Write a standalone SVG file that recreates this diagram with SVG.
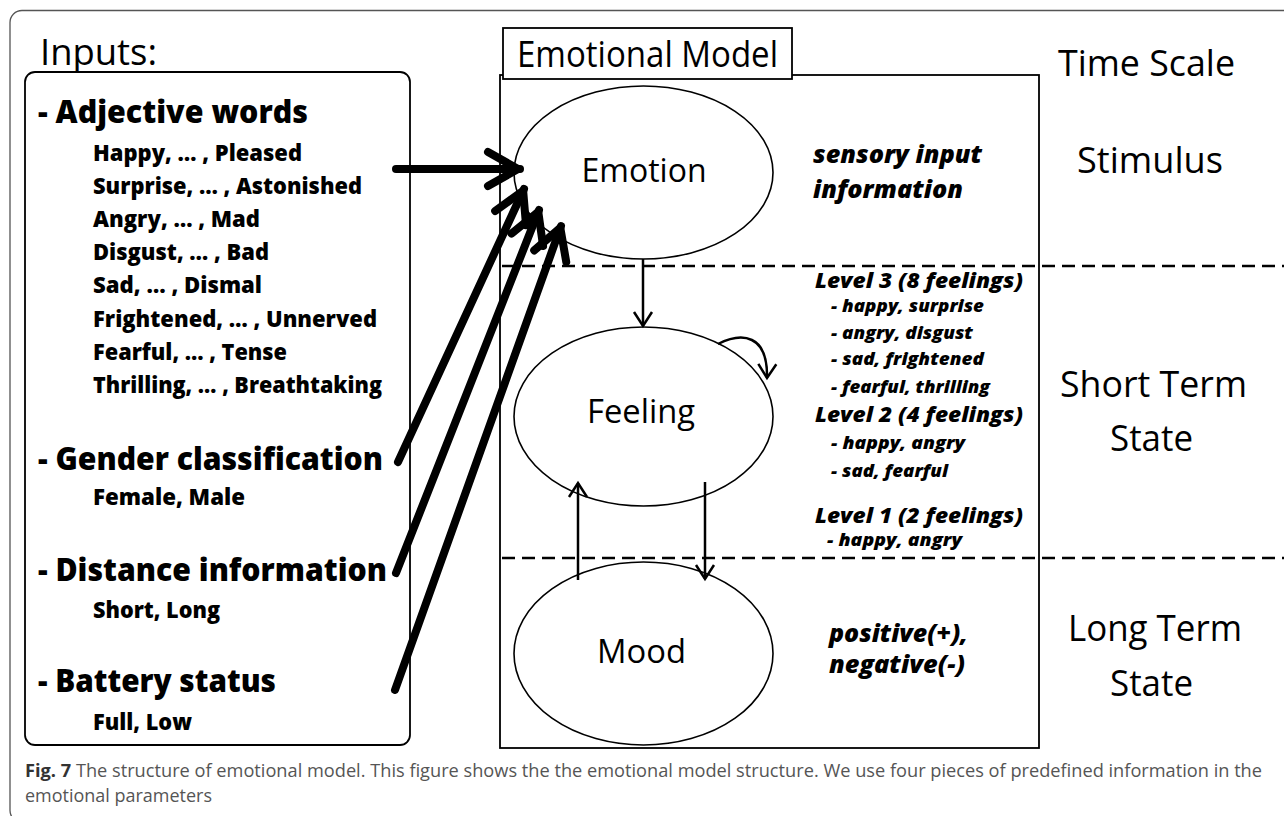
<svg xmlns="http://www.w3.org/2000/svg" width="1284" height="816" viewBox="0 0 1284 816">
  <style>
    text { font-family: "Open Sans", "Noto Sans", sans-serif; fill: #000; }
    .title { font-size: 36px; }
    .head { font-size: 31px; font-weight: 800; }
    .item { font-size: 22px; font-weight: 800; }
    .node { font-size: 32px; }
    .note { font-size: 25px; font-weight: 800; font-style: italic; }
    .lvl { font-size: 21px; font-weight: 800; font-style: italic; }
    .sub { font-size: 18px; font-weight: 800; font-style: italic; }
    .scale { font-size: 36px; }
    .cap { font-size: 18px; fill: #555; }
    .capb { font-weight: bold; fill: #333; }
    .frame { fill: none; stroke: #555; stroke-width: 1.3; }
    .box { fill: #fff; stroke: #000; stroke-width: 1.8; }
    .ell { fill: #fff; stroke: #000; stroke-width: 1.6; }
    .dash { fill: none; stroke: #000; stroke-width: 2.6; stroke-dasharray: 13 7; }
    .thick { fill: none; stroke: #000; stroke-width: 8; stroke-linecap: round; marker-end: url(#headThick); }
    .thin { fill: none; stroke: #000; stroke-width: 2.5; marker-end: url(#headThin); }
  </style>
  <defs>
    <marker id="headThick" markerUnits="userSpaceOnUse" orient="auto" refX="0" refY="0" markerWidth="50" markerHeight="50" viewBox="-40 -25 50 50" overflow="visible">
      <path d="M -32 -17 L -2 0 L -32 17" fill="none" stroke="#000" stroke-width="8" stroke-linecap="round" stroke-linejoin="round"/>
    </marker>
    <marker id="headThin" markerUnits="userSpaceOnUse" orient="auto" refX="0" refY="0" markerWidth="30" markerHeight="30" viewBox="-20 -15 30 30" overflow="visible">
      <path d="M -14 -9 L 0 0 L -14 9" fill="none" stroke="#000" stroke-width="2.5" stroke-linejoin="miter"/>
    </marker>
  </defs>

  <rect width="1284" height="816" fill="#fff"/>

  <!-- outer figure frame -->
  <rect class="frame" x="10" y="10.5" width="1300" height="812" rx="12"/>

  <!-- inputs panel -->
  <g id="inputs">
    <text class="title" x="40" y="65" textLength="117" lengthAdjust="spacingAndGlyphs">Inputs:</text>
    <rect class="box" x="25" y="72" width="385" height="673" rx="10"/>
    <text class="head" x="38" y="123" textLength="270" lengthAdjust="spacingAndGlyphs">- Adjective words</text>
    <text class="item" x="93" y="161" textLength="209" lengthAdjust="spacingAndGlyphs">Happy, … , Pleased</text>
    <text class="item" x="93" y="194" textLength="269" lengthAdjust="spacingAndGlyphs">Surprise, … , Astonished</text>
    <text class="item" x="93" y="227" textLength="167" lengthAdjust="spacingAndGlyphs">Angry, … , Mad</text>
    <text class="item" x="93" y="260" textLength="176" lengthAdjust="spacingAndGlyphs">Disgust, … , Bad</text>
    <text class="item" x="93" y="293" textLength="169" lengthAdjust="spacingAndGlyphs">Sad, … , Dismal</text>
    <text class="item" x="93" y="327" textLength="284" lengthAdjust="spacingAndGlyphs">Frightened, … , Unnerved</text>
    <text class="item" x="93" y="360" textLength="194" lengthAdjust="spacingAndGlyphs">Fearful, … , Tense</text>
    <text class="item" x="93" y="393" textLength="289" lengthAdjust="spacingAndGlyphs">Thrilling, … , Breathtaking</text>
    <text class="head" x="38" y="470" textLength="345" lengthAdjust="spacingAndGlyphs">- Gender classification</text>
    <text class="item" x="93" y="505" textLength="152" lengthAdjust="spacingAndGlyphs">Female, Male</text>
    <text class="head" x="38" y="581" textLength="349" lengthAdjust="spacingAndGlyphs">- Distance information</text>
    <text class="item" x="93" y="618" textLength="127" lengthAdjust="spacingAndGlyphs">Short, Long</text>
    <text class="head" x="38" y="692" textLength="238" lengthAdjust="spacingAndGlyphs">- Battery status</text>
    <text class="item" x="93" y="730" textLength="99" lengthAdjust="spacingAndGlyphs">Full, Low</text>
  </g>

  <!-- emotional model panel -->
  <g id="model">
    <rect class="box" x="500" y="75" width="539" height="673"/>
    <rect class="box" x="503" y="28" width="289" height="51"/>
    <text class="title" x="517" y="67" textLength="261" lengthAdjust="spacingAndGlyphs">Emotional Model</text>
    <line class="dash" x1="502" y1="266" x2="1284" y2="266"/>
    <line class="dash" x1="502" y1="558" x2="1284" y2="558"/>
  </g>

  <g id="emotion">
    <ellipse class="ell" cx="643.5" cy="172.5" rx="129.5" ry="86.5"/>
    <text class="node" x="644" y="182" text-anchor="middle" textLength="125" lengthAdjust="spacingAndGlyphs">Emotion</text>
  </g>

  <g id="feeling">
    <ellipse class="ell" cx="643.5" cy="416.5" rx="129.5" ry="89.5"/>
    <text class="node" x="641" y="423" text-anchor="middle" textLength="108" lengthAdjust="spacingAndGlyphs">Feeling</text>
  </g>

  <g id="mood">
    <ellipse class="ell" cx="643.5" cy="653.5" rx="129.5" ry="91.5"/>
    <text class="node" x="641.5" y="663" text-anchor="middle" textLength="89" lengthAdjust="spacingAndGlyphs">Mood</text>
  </g>

  <!-- descriptions beside each layer -->
  <g id="emotion-note">
    <text class="note" x="813" y="163" textLength="169" lengthAdjust="spacingAndGlyphs">sensory input</text>
    <text class="note" x="813" y="198" textLength="150" lengthAdjust="spacingAndGlyphs">information</text>
  </g>

  <g id="feeling-levels">
    <text class="lvl" x="815" y="288" textLength="208" lengthAdjust="spacingAndGlyphs">Level 3 (8 feelings)</text>
    <text class="sub" x="831" y="312" textLength="153" lengthAdjust="spacingAndGlyphs">- happy, surprise</text>
    <text class="sub" x="831" y="339" textLength="142" lengthAdjust="spacingAndGlyphs">- angry, disgust</text>
    <text class="sub" x="831" y="365" textLength="153" lengthAdjust="spacingAndGlyphs">- sad, frightened</text>
    <text class="sub" x="831" y="393" textLength="159" lengthAdjust="spacingAndGlyphs">- fearful, thrilling</text>
    <text class="lvl" x="815" y="422" textLength="208" lengthAdjust="spacingAndGlyphs">Level 2 (4 feelings)</text>
    <text class="sub" x="831" y="449" textLength="134" lengthAdjust="spacingAndGlyphs">- happy, angry</text>
    <text class="sub" x="831" y="477" textLength="117" lengthAdjust="spacingAndGlyphs">- sad, fearful</text>
    <text class="lvl" x="815" y="523" textLength="208" lengthAdjust="spacingAndGlyphs">Level 1 (2 feelings)</text>
    <text class="sub" x="827" y="546" textLength="135" lengthAdjust="spacingAndGlyphs">- happy, angry</text>
  </g>

  <g id="mood-note">
    <text class="note" x="829" y="642" textLength="139" lengthAdjust="spacingAndGlyphs">positive(+),</text>
    <text class="note" x="829" y="673" textLength="136" lengthAdjust="spacingAndGlyphs">negative(-)</text>
  </g>

  <!-- time scale column -->
  <g id="time-scale">
    <text class="scale" x="1058" y="76" textLength="177" lengthAdjust="spacingAndGlyphs">Time Scale</text>
    <text class="scale" x="1077" y="173" textLength="146" lengthAdjust="spacingAndGlyphs">Stimulus</text>
    <text class="scale" x="1060" y="397" textLength="187" lengthAdjust="spacingAndGlyphs">Short Term</text>
    <text class="scale" x="1110" y="451" textLength="83" lengthAdjust="spacingAndGlyphs">State</text>
    <text class="scale" x="1068" y="641" textLength="174" lengthAdjust="spacingAndGlyphs">Long Term</text>
    <text class="scale" x="1110" y="696" textLength="83" lengthAdjust="spacingAndGlyphs">State</text>
  </g>

  <!-- connectors -->
  <g id="connectors">
    <path class="thick" d="M 396 169 L 520 169"/>
    <path class="thick" d="M 398 462 L 524 189"/>
    <path class="thick" d="M 396 573 L 539 210"/>
    <path class="thick" d="M 395 690 L 561 226"/>
    <path class="thin" d="M 643 259 L 643 326"/>
    <path class="thin" d="M 578 580 L 578 483"/>
    <path class="thin" d="M 705 482 L 705 579"/>
    <path class="thin" d="M 718 344 C 742 332, 768 334, 767 378"/>
  </g>

  <!-- caption -->
  <g id="caption">
    <text class="cap" x="25" y="777" textLength="1237" lengthAdjust="spacingAndGlyphs"><tspan class="capb">Fig. 7</tspan>  The structure of emotional model. This figure shows the the emotional model structure. We use four pieces of predefined information in the</text>
    <text class="cap" x="25" y="802" textLength="187" lengthAdjust="spacingAndGlyphs">emotional parameters</text>
  </g>
</svg>
